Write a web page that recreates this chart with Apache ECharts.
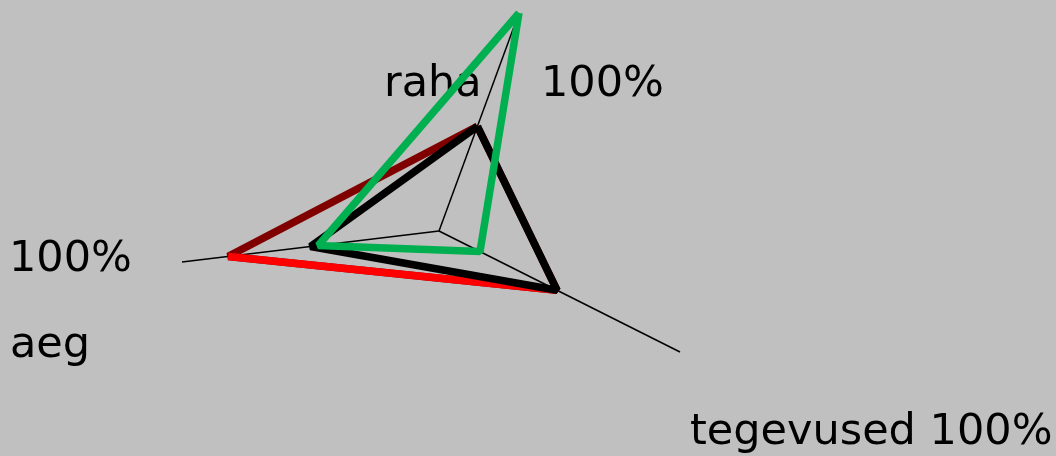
<!DOCTYPE html>
<html>
<head>
<meta charset="utf-8">
<script src="https://cdn.jsdelivr.net/npm/echarts@6/dist/echarts.min.js"></script>
<style>
html, body { margin: 0; padding: 0; background: #c0c0c0; }
#chart { width: 1056px; height: 456px; }
</style>
</head>
<body>
<div id="chart"></div>
<script>
// axes of the chart, in drawing order raha -> tegevused -> aeg
CATEGORIES = ['raha', 'tegevused', 'aeg'];
// values in percent of each axis
BLACK_VALUES = [48, 49, 50];
MAROON_VALUES = [48, 49, 82];
RED_VALUES = [null, 49, 82];
GREEN_VALUES = [100, 17, 47];

// layout (pixel frame of the picture)
var CENTER = [439, 231];
var AXIS_END = [[519, 13], [680, 352], [182, 262]];

function project(i, v) {
	return [
		CENTER[0] + (AXIS_END[i][0] - CENTER[0]) * v / 100,
		CENTER[1] + (AXIS_END[i][1] - CENTER[1]) * v / 100
	];
}

function polygon(values, closed) {
	var pts = [];
	for (var i = 0; i < values.length; i++) {
		if (values[i] != null) pts.push(project(i, values[i]));
	}
	if (closed) pts.push(pts[0]);
	return pts;
}

function lineSeries(data, color, width) {
	return {
		type: 'line',
		data: data,
		symbol: 'none',
		silent: true,
		lineStyle: { color: color, width: width, join: 'bevel', cap: 'butt' }
	};
}

var series = [];
for (var i = 0; i < CATEGORIES.length; i++) {
	series.push(lineSeries([CENTER, project(i, 100)], '#000000', 1.5));
}
series.push(lineSeries(polygon(MAROON_VALUES, true), '#800000', 7.5));
series.push(lineSeries(polygon(RED_VALUES, false).reverse(), '#ff0000', 7.5));
series.push(lineSeries(polygon(BLACK_VALUES, true), '#000000', 7.5));
series.push(lineSeries(polygon(GREEN_VALUES, true), '#00b050', 7.5));

var FONT = '43px "DejaVu Sans"';
function label(text, x, y) {
	return {
		type: 'text', x: x, y: y, silent: true,
		style: { text: text, font: FONT, fill: '#000', textVerticalAlign: 'middle' }
	};
}

var myChart = echarts.init(document.getElementById('chart'));
myChart.setOption({
	backgroundColor: '#c0c0c0',
	animation: false,
	grid: { left: 0, right: 0, top: 0, bottom: 0 },
	xAxis: { type: 'value', min: 0, max: 1056, show: false },
	yAxis: { type: 'value', min: 0, max: 456, inverse: true, show: false },
	graphic: [
		label(CATEGORIES[0], 384, 85),
		label('100%', 541, 85),
		label('100%', 9, 260),
		label(CATEGORIES[2], 10, 346),
		label(CATEGORIES[1] + ' 100%', 690, 433)
	],
	series: series
});
</script>
</body>
</html>
